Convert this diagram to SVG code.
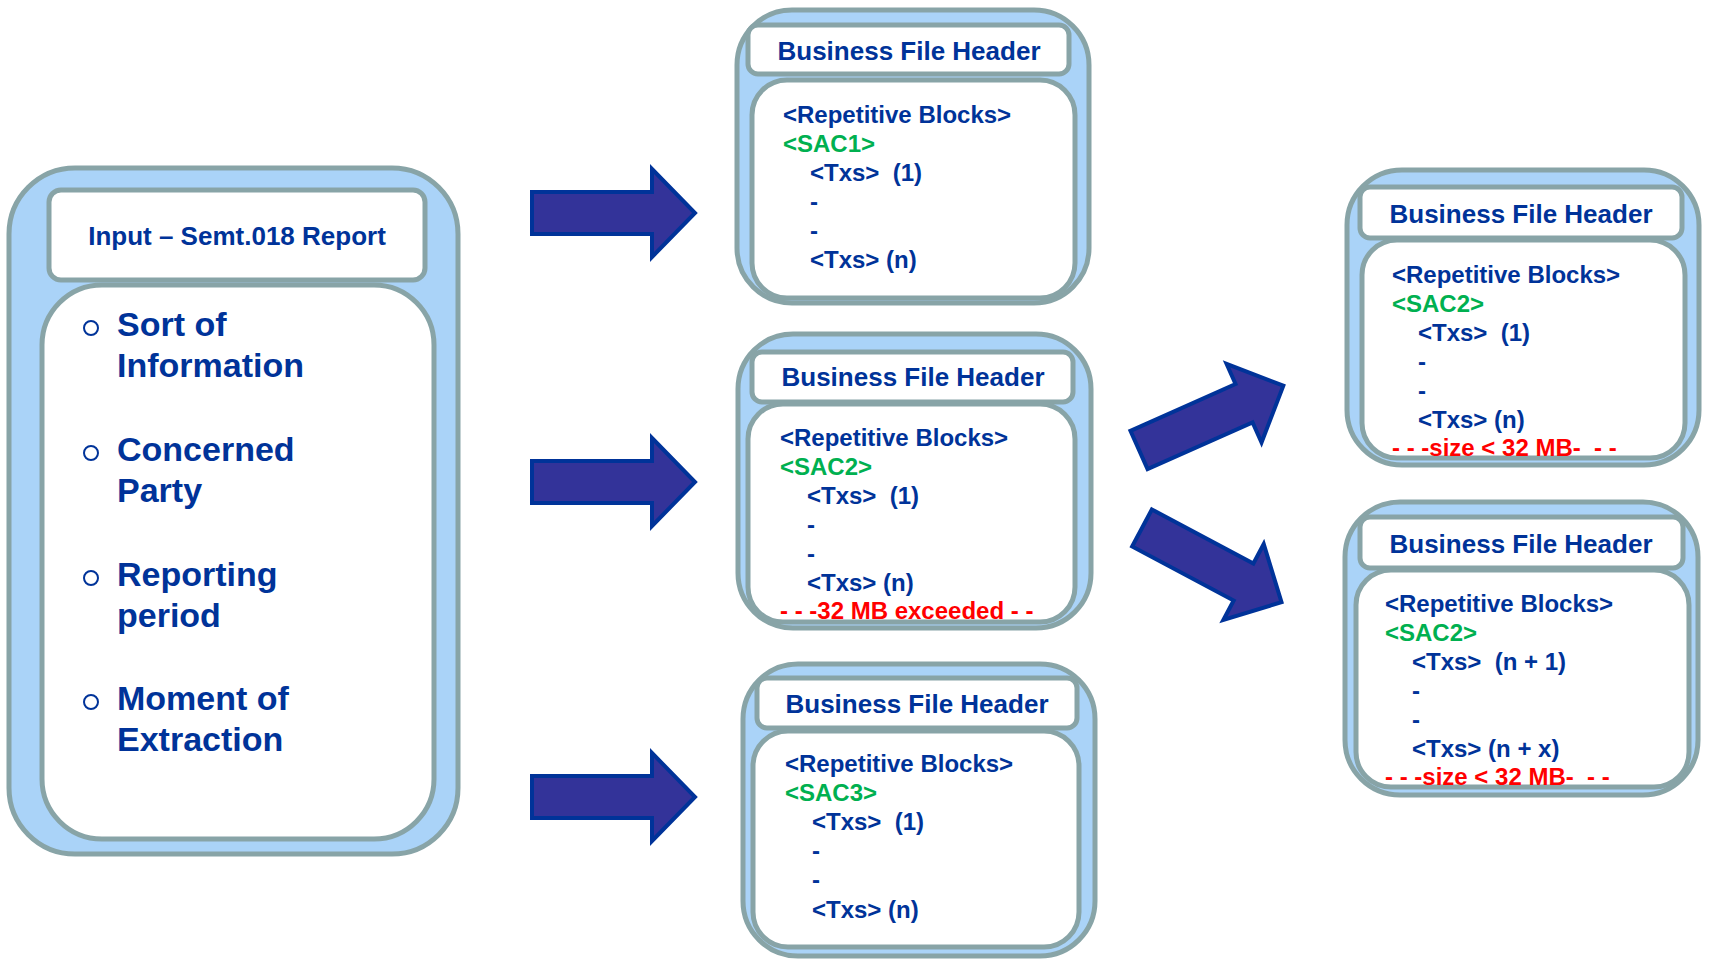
<svg xmlns="http://www.w3.org/2000/svg" width="1710" height="959" viewBox="0 0 1710 959">
<style>
.outer{fill:#aad3f8;stroke:#88a4a7;stroke-width:5}
.inner{fill:#ffffff;stroke:#88a4a7;stroke-width:5}
.t{font-family:"Liberation Sans",Arial,sans-serif;font-weight:bold;fill:#003399;white-space:pre}
.h{font-size:26px;text-anchor:middle}
.b{font-size:24px}
.g{fill:#00b050}
.r{fill:#ff0000}
.big{font-size:34px}
.arrow{fill:#333399;stroke:#003399;stroke-width:4;stroke-linejoin:miter}
</style>
<defs>
<path id="arr" d="M0,-21 L120,-21 L120,-44 L163,0 L120,44 L120,21 L0,21 Z"/>
<path id="arrd" d="M0,-21 L115,-21 L115,-43 L158,0 L115,43 L115,21 L0,21 Z"/>
</defs>
<rect width="1710" height="959" fill="#ffffff"/>

<g id="input-report">
<rect class="outer" x="9" y="168" width="449" height="686" rx="66"/>
<rect class="inner" x="49" y="190" width="376" height="90" rx="12"/>
<rect class="inner" x="42" y="285" width="392" height="554" rx="60"/>
<text class="t h" x="237" y="245">Input – Semt.018 Report</text>
<g fill="none" stroke="#003399" stroke-width="2">
<circle cx="91" cy="328" r="7"/>
<circle cx="91" cy="453" r="7"/>
<circle cx="91" cy="578" r="7"/>
<circle cx="91" cy="702" r="7"/>
</g>
<text class="t big" x="117" y="336">Sort of</text>
<text class="t big" x="117" y="377">Information</text>
<text class="t big" x="117" y="461">Concerned</text>
<text class="t big" x="117" y="502">Party</text>
<text class="t big" x="117" y="586">Reporting</text>
<text class="t big" x="117" y="627">period</text>
<text class="t big" x="117" y="710">Moment of</text>
<text class="t big" x="117" y="751">Extraction</text>
</g>

<g id="file-sac1">
<rect class="outer" x="737" y="10" width="352" height="293" rx="55"/>
<rect class="inner" x="752" y="80" width="323" height="218" rx="35"/>
<rect class="inner" x="748" y="25" width="321" height="49" rx="10"/>
<text class="t h" x="909" y="60">Business File Header</text>
<text class="t b" x="783" y="123">&lt;Repetitive Blocks&gt;</text>
<text class="t b g" x="783" y="152">&lt;SAC1&gt;</text>
<text class="t b" x="810" y="181">&lt;Txs&gt;  (1)</text>
<text class="t b" x="810" y="210">-</text>
<text class="t b" x="810" y="239">-</text>
<text class="t b" x="810" y="268">&lt;Txs&gt; (n)</text>
</g>

<g id="file-sac2">
<rect class="outer" x="738" y="334" width="353" height="294" rx="55"/>
<rect class="inner" x="748" y="404" width="327" height="218" rx="35"/>
<rect class="inner" x="752" y="352" width="321" height="50" rx="10"/>
<text class="t h" x="913" y="386">Business File Header</text>
<text class="t b" x="780" y="446">&lt;Repetitive Blocks&gt;</text>
<text class="t b g" x="780" y="475">&lt;SAC2&gt;</text>
<text class="t b" x="807" y="504">&lt;Txs&gt;  (1)</text>
<text class="t b" x="807" y="533">-</text>
<text class="t b" x="807" y="562">-</text>
<text class="t b" x="807" y="591">&lt;Txs&gt; (n)</text>
<text class="t b r" x="780" y="619">- - -32 MB exceeded - -</text>
</g>

<g id="file-sac3">
<rect class="outer" x="743" y="664" width="352" height="292" rx="55"/>
<rect class="inner" x="753" y="731" width="326" height="216" rx="35"/>
<rect class="inner" x="757" y="678" width="320" height="50" rx="10"/>
<text class="t h" x="917" y="713">Business File Header</text>
<text class="t b" x="785" y="772">&lt;Repetitive Blocks&gt;</text>
<text class="t b g" x="785" y="801">&lt;SAC3&gt;</text>
<text class="t b" x="812" y="830">&lt;Txs&gt;  (1)</text>
<text class="t b" x="812" y="859">-</text>
<text class="t b" x="812" y="888">-</text>
<text class="t b" x="812" y="918">&lt;Txs&gt; (n)</text>
</g>

<g id="file-sac2-part1">
<rect class="outer" x="1347" y="170" width="352" height="295" rx="55"/>
<rect class="inner" x="1362" y="240" width="323" height="218" rx="35"/>
<rect class="inner" x="1360" y="187" width="322" height="51" rx="10"/>
<text class="t h" x="1521" y="223">Business File Header</text>
<text class="t b" x="1392" y="283">&lt;Repetitive Blocks&gt;</text>
<text class="t b g" x="1392" y="312">&lt;SAC2&gt;</text>
<text class="t b" x="1418" y="341">&lt;Txs&gt;  (1)</text>
<text class="t b" x="1418" y="370">-</text>
<text class="t b" x="1418" y="399">-</text>
<text class="t b" x="1418" y="428">&lt;Txs&gt; (n)</text>
<text class="t b r" x="1392" y="456">- - -size &lt; 32 MB-  - -</text>
</g>

<g id="file-sac2-part2">
<rect class="outer" x="1345" y="502" width="353" height="293" rx="55"/>
<rect class="inner" x="1356" y="570" width="333" height="217" rx="35"/>
<rect class="inner" x="1360" y="517" width="323" height="51" rx="10"/>
<text class="t h" x="1521" y="553">Business File Header</text>
<text class="t b" x="1385" y="612">&lt;Repetitive Blocks&gt;</text>
<text class="t b g" x="1385" y="641">&lt;SAC2&gt;</text>
<text class="t b" x="1412" y="670">&lt;Txs&gt;  (n + 1)</text>
<text class="t b" x="1412" y="699">-</text>
<text class="t b" x="1412" y="728">-</text>
<text class="t b" x="1412" y="757">&lt;Txs&gt; (n + x)</text>
<text class="t b r" x="1385" y="785">- - -size &lt; 32 MB-  - -</text>
</g>

<g id="connectors">
<use href="#arr" class="arrow" transform="translate(532,213)"/>
<use href="#arr" class="arrow" transform="translate(532,482)"/>
<use href="#arr" class="arrow" transform="translate(532,797)"/>
<use href="#arrd" class="arrow" transform="translate(1139,450) rotate(-24)"/>
<use href="#arrd" class="arrow" transform="translate(1142,528) rotate(28)"/>
</g>
</svg>
